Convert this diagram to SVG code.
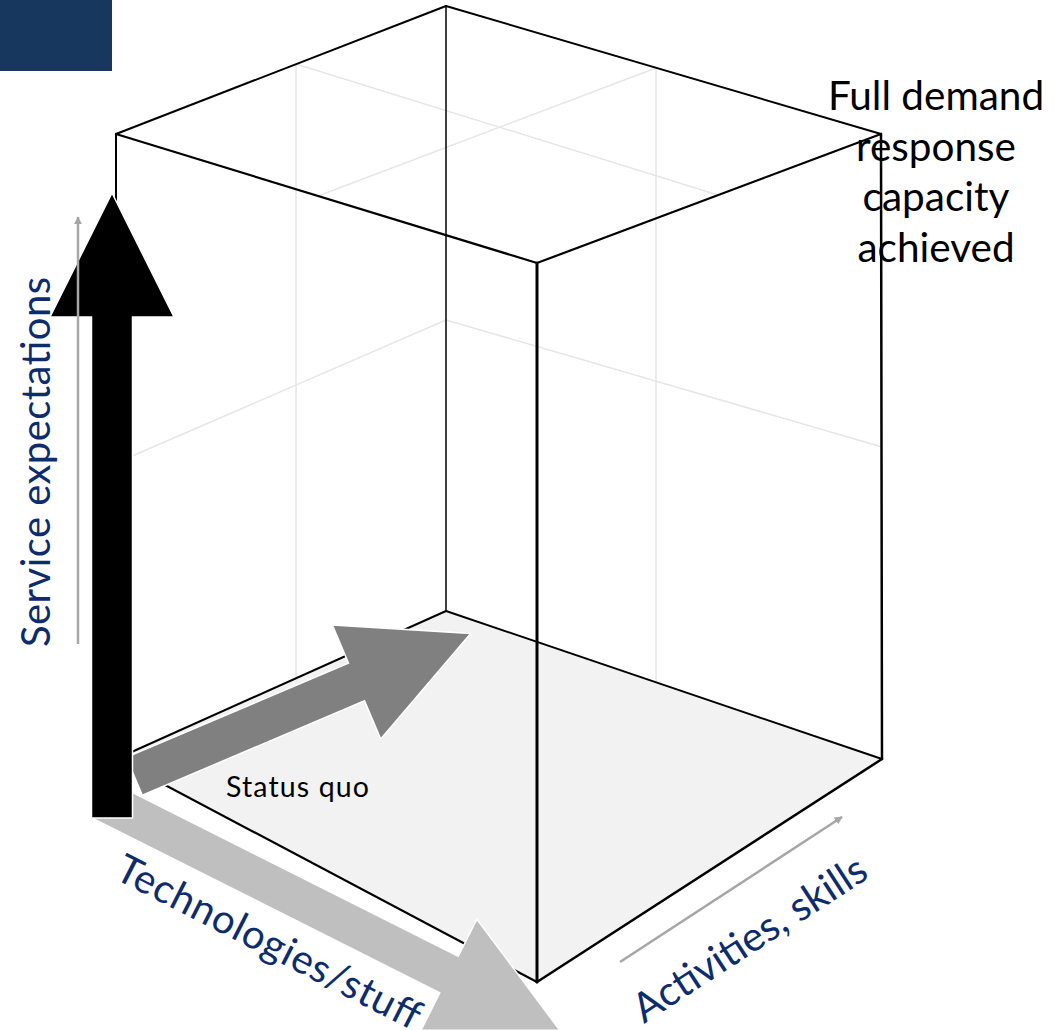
<svg xmlns="http://www.w3.org/2000/svg" width="1055" height="1030" viewBox="0 0 1055 1030">
<style>
.edge{stroke:#000;fill:none;stroke-linecap:round;stroke-linejoin:round}
.grid{stroke:#E6E6E6;stroke-width:1.5;fill:none}
.axis{stroke:#A6A6A6;stroke-width:2.5;fill:none}
.lbl{font-family:Lato,"Open Sans","Liberation Sans",sans-serif;fill:#0D2C6C}
.blk{font-family:Lato,"Open Sans","Liberation Sans",sans-serif;fill:#000}
.arw{stroke:#fff;stroke-width:1.5;stroke-linejoin:miter}
</style>
<defs>
<marker id="ah" viewBox="0 0 10 10" refX="9" refY="5" markerWidth="8" markerHeight="8" markerUnits="userSpaceOnUse" orient="auto">
<path d="M0,0 L10,5 L0,10 Z" fill="#A6A6A6"/>
</marker>
</defs>
<rect width="1055" height="1030" fill="#fff"/>
<g id="corner-block"><rect x="0" y="0" width="112" height="71" fill="#17375E"/></g>
<g id="cube">
<polygon id="floor" points="116,759 446,611 882,759 537,982" fill="#F2F2F2"/>
<g id="gridlines">
<line class="grid" x1="296" y1="64" x2="296" y2="678"/>
<line class="grid" x1="656" y1="68" x2="656" y2="682"/>
<line class="grid" x1="446" y1="320" x2="116" y2="463"/>
<line class="grid" x1="446" y1="320" x2="882" y2="447"/>
<line class="grid" x1="296" y1="64" x2="718" y2="195"/>
<line class="grid" x1="656" y1="68" x2="318" y2="196"/>
</g>
<g id="edges">
<line class="edge" stroke-width="1.5" x1="446" y1="6" x2="446" y2="611"/>
<line class="edge" stroke-width="2" x1="116" y1="759" x2="446" y2="611"/>
<line class="edge" stroke-width="2" x1="446" y1="611" x2="882" y2="759"/>
<line class="edge" stroke-width="2" x1="116" y1="134" x2="446" y2="6"/>
<line class="edge" stroke-width="2" x1="446" y1="6" x2="881" y2="134"/>
<line class="edge" stroke-width="2.2" x1="881" y1="134" x2="537" y2="263"/>
<line class="edge" stroke-width="2.2" x1="537" y1="263" x2="116" y2="134"/>
<line class="edge" stroke-width="2" x1="116" y1="134" x2="116" y2="759"/>
<line class="edge" stroke-width="2.5" x1="881" y1="134" x2="882" y2="759"/>
<line class="edge" stroke-width="2.5" x1="882" y1="759" x2="537" y2="982"/>
<line class="edge" stroke-width="2.2" x1="537" y1="982" x2="116" y2="759"/>
<line class="edge" stroke-width="3" x1="537" y1="263" x2="537" y2="982"/>
</g>
</g>
<g id="connectors">
<polygon id="arrow-technologies" class="arw" fill="#BFBFBF" transform="translate(101.5,799.8) rotate(26.7)" points="0,-20.5 389,-20.5 389,-62 513,0 389,62 389,20.5 0,20.5"/>
<polygon id="arrow-status-quo" class="arw" fill="#808080" transform="translate(134.3,776.3) rotate(-23)" points="0,-20.5 241.4,-20.5 241.4,-62 365.4,0 241.4,62 241.4,20.5 0,20.5"/>
<polygon id="arrow-service" class="arw" fill="#000" points="91.5,818 91.5,317 50,317 112,193 174,317 132.5,317 132.5,818"/>
<line id="axis-service" class="axis" x1="78" y1="644" x2="78" y2="217" marker-end="url(#ah)"/>
<line id="axis-activities" class="axis" x1="620" y1="962" x2="842" y2="817" marker-end="url(#ah)"/>
</g>
<g id="labels">
<text class="lbl" font-size="40" transform="translate(113,878) rotate(27)" textLength="336">Technologies/stuff</text>
<text class="lbl" font-size="40" transform="translate(50,647) rotate(-90)" textLength="370">Service expectations</text>
<text class="lbl" font-size="40.5" transform="translate(644,1024) rotate(-33)" textLength="270">Activities, skills</text>
<text class="blk" font-size="28.5" x="226" y="797" textLength="143">Status quo</text>
<g id="goal-label" class="blk" font-size="40.5" text-anchor="middle">
<text x="936" y="110">Full demand</text>
<text x="936" y="160.5">response</text>
<text x="936" y="211">capacity</text>
<text x="936" y="261.5">achieved</text>
</g>
</g>
</svg>
